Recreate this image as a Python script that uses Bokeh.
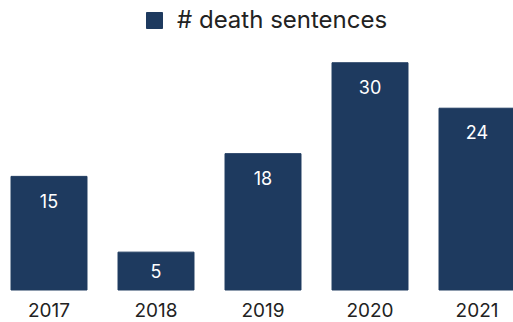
from bokeh.plotting import figure
from bokeh.models import ColumnDataSource, Range1d, FixedTicker, LabelSet, Legend, LegendItem
from bokeh.core.properties import value
from bokeh.embed import file_html
from bokeh.resources import INLINE

years = ["2017", "2018", "2019", "2020", "2021"]
sentences = [15, 5, 18, 30, 24]
series_name = "# death sentences"

FONT = "Inter"
BAR = "#1e3a5f"

idx = list(range(len(years)))
label_y = [max(v / 2, v - 3.2) for v in sentences]
src = ColumnDataSource(dict(x=idx, top=sentences, label=[str(v) for v in sentences], ly=label_y))

p = figure(width=513, height=322, x_range=Range1d(-0.4533, 4.341), y_range=Range1d(-0.33, 38.22),
           output_backend="svg", toolbar_location=None, y_axis_location=None,
           min_border_left=0, min_border_right=0, min_border_top=0, min_border_bottom=30)
p.grid.visible = False
p.outline_line_color = None

r = p.vbar(x="x", top="top", width=0.71, source=src, color=BAR)

ax = p.xaxis[0]
ax.ticker = FixedTicker(ticks=idx)
ax.major_label_overrides = {i: y for i, y in zip(idx, years)}
ax.axis_line_color = None
ax.major_tick_line_color = None
ax.minor_tick_line_color = None
ax.major_tick_in = 0
ax.major_tick_out = 0
ax.major_label_standoff = 10
ax.major_label_text_font = FONT
ax.major_label_text_font_size = "19px"
ax.major_label_text_color = "#222222"

labels = LabelSet(x="x", y="ly", text="label", source=src, text_align="center", text_baseline="middle",
                  text_color="white", text_font_size="18px", text_font=value(FONT))
p.add_layout(labels)

legend = Legend(items=[LegendItem(label=series_name, renderers=[r])], location=(144, 258),
                orientation="horizontal", glyph_width=20, glyph_height=20,
                label_text_font=FONT, label_text_font_size="24px", label_text_color="#222222",
                label_standoff=13, border_line_color=None, background_fill_alpha=0,
                padding=0, margin=0, spacing=0)
p.add_layout(legend)

open("out.html", "w").write(file_html(p, INLINE))
